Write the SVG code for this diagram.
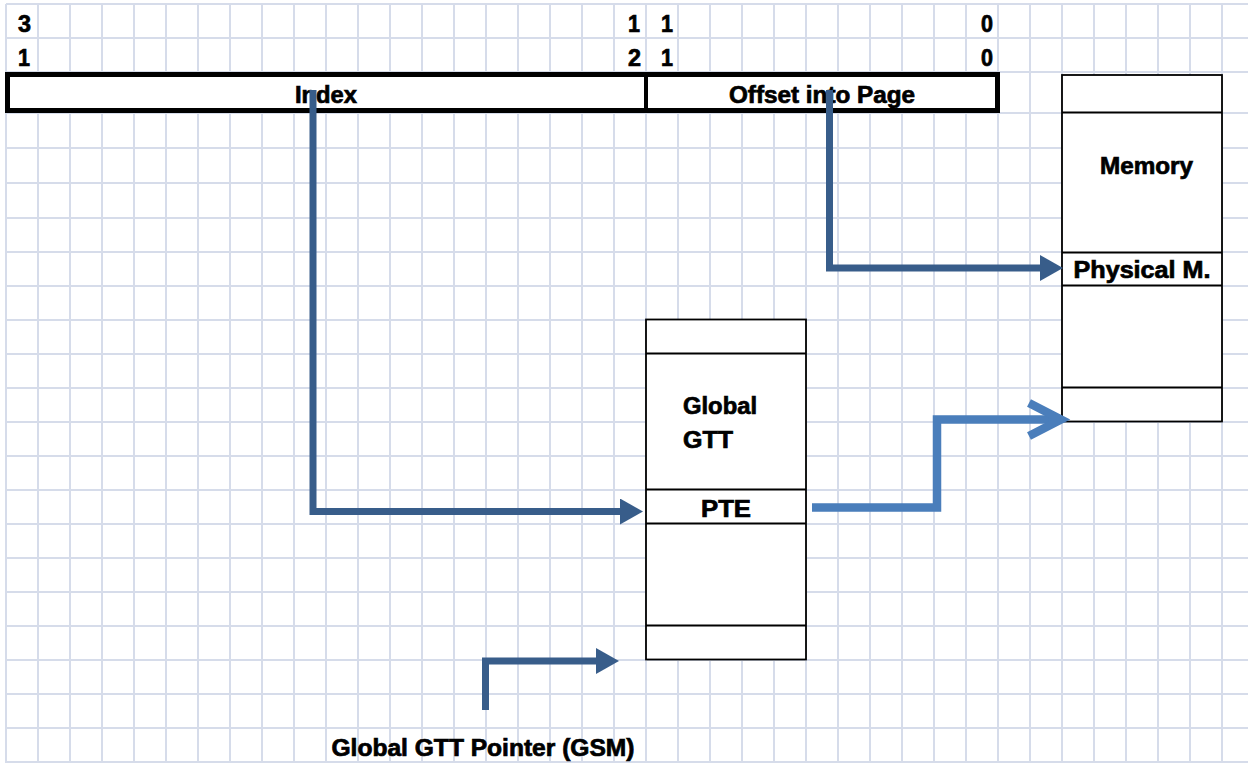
<svg xmlns="http://www.w3.org/2000/svg" width="1248" height="763" viewBox="0 0 1248 763">
<defs>
<style>
.grid{stroke:#D6DCEA;stroke-width:2;fill:none}
.box{fill:#FFFFFF;stroke:#000000;stroke-width:1.8}
.sep{stroke:#000000;stroke-width:1.8}
.hdr{fill:#FFFFFF;stroke:#000000;stroke-width:5}
.t{font-family:"Liberation Sans",Arial,sans-serif;font-weight:bold;font-size:23px;fill:#000000;stroke:#000000;stroke-width:0.7}
.dark{fill:none;stroke:#385D8A;stroke-width:7;stroke-linejoin:miter;stroke-linecap:butt}
.light{fill:none;stroke:#4A7EBB;stroke-width:8.5;stroke-linejoin:miter;stroke-linecap:butt}
</style>
<marker id="ah" markerUnits="userSpaceOnUse" markerWidth="23" markerHeight="26" viewBox="0 0 23 26" refX="1" refY="13" orient="auto">
<path d="M0,0 L23,13 L0,26 z" fill="#385D8A"/>
</marker>
</defs>
<rect width="1248" height="763" fill="#FFFFFF"/>
<g id="grid">
<path class="grid" d="M6,4V763M38,4V763M70,4V763M102,4V763M134,4V763M166,4V763M198,4V763M230,4V763M262,4V763M294,4V763M326,4V763M358,4V763M390,4V763M422,4V763M454,4V763M486,4V763M518,4V763M550,4V763M582,4V763M614,4V763M646,4V763M678,4V763M710,4V763M742,4V763M774,4V763M806,4V763M838,4V763M870,4V763M902,4V763M934,4V763M966,4V763M998,4V763M1030,4V763M1062,4V763M1094,4V763M1126,4V763M1158,4V763M1190,4V763M1222,4V763"/>
<path class="grid" d="M6,4H1248M6,38H1248M6,72H1248M6,113H1248M6,148H1248M6,183H1248M6,218H1248M6,252H1248M6,286H1248M6,320H1248M6,354H1248M6,388H1248M6,422H1248M6,456H1248M6,490H1248M6,524H1248M6,558H1248M6,592H1248M6,626H1248M6,660H1248M6,694H1248M6,728H1248M6,762H1248"/>
</g>
<g id="bits">
<text class="t" x="18" y="31.5" textLength="13" lengthAdjust="spacingAndGlyphs">3</text>
<text class="t" x="18" y="65.5" textLength="12" lengthAdjust="spacingAndGlyphs">1</text>
<text class="t" x="628" y="31.5" textLength="12" lengthAdjust="spacingAndGlyphs">1</text>
<text class="t" x="628" y="65.5" textLength="13" lengthAdjust="spacingAndGlyphs">2</text>
<text class="t" x="661" y="31.5" textLength="12" lengthAdjust="spacingAndGlyphs">1</text>
<text class="t" x="661" y="65.5" textLength="12" lengthAdjust="spacingAndGlyphs">1</text>
<text class="t" x="981" y="31.5" textLength="12" lengthAdjust="spacingAndGlyphs">0</text>
<text class="t" x="981" y="65.5" textLength="12" lengthAdjust="spacingAndGlyphs">0</text>
</g>
<g id="address">
<rect class="hdr" x="7.5" y="74.5" width="990" height="36"/>
<line class="sep" x1="646" y1="74" x2="646" y2="111" style="stroke-width:4"/>
<text class="t" x="326" y="102.5" text-anchor="middle" textLength="62" lengthAdjust="spacingAndGlyphs">Index</text>
<text class="t" x="822" y="102.5" text-anchor="middle" textLength="186" lengthAdjust="spacingAndGlyphs">Offset into Page</text>
</g>
<g id="memory">
<rect class="box" x="1062" y="75" width="160" height="346.5"/>
<path class="sep" d="M1062,112.5H1222M1062,252.5H1222M1062,285.5H1222M1062,387.5H1222"/>
<text class="t" x="1146.5" y="173.5" text-anchor="middle" textLength="93" lengthAdjust="spacingAndGlyphs">Memory</text>
<text class="t" x="1142" y="277.5" text-anchor="middle" textLength="137" lengthAdjust="spacingAndGlyphs">Physical M.</text>
</g>
<g id="gtt">
<rect class="box" x="646" y="319.5" width="160" height="340"/>
<path class="sep" d="M646,353.5H806M646,489.5H806M646,523.5H806M646,625.5H806"/>
<text class="t" x="683" y="413.5" textLength="74" lengthAdjust="spacingAndGlyphs">Global</text>
<text class="t" x="683" y="448" textLength="50" lengthAdjust="spacingAndGlyphs">GTT</text>
<text class="t" x="726" y="516.5" text-anchor="middle" textLength="50" lengthAdjust="spacingAndGlyphs">PTE</text>
</g>
<g id="gsm-label">
<text class="t" x="483" y="756" text-anchor="middle" textLength="303" lengthAdjust="spacingAndGlyphs">Global GTT Pointer (GSM)</text>
</g>
<g id="connectors">
<path class="dark" d="M313,90V511.5H621" marker-end="url(#ah)"/>
<path class="dark" d="M829.5,90V268H1041" marker-end="url(#ah)"/>
<path class="dark" d="M485.5,710V661H597" marker-end="url(#ah)"/>
<path class="light" d="M812,507.5H937V419.5H1058"/>
<path class="light" d="M1029,403L1061,419.5L1029,436" style="stroke-linejoin:miter;stroke-miterlimit:10"/>
</g>
</svg>
